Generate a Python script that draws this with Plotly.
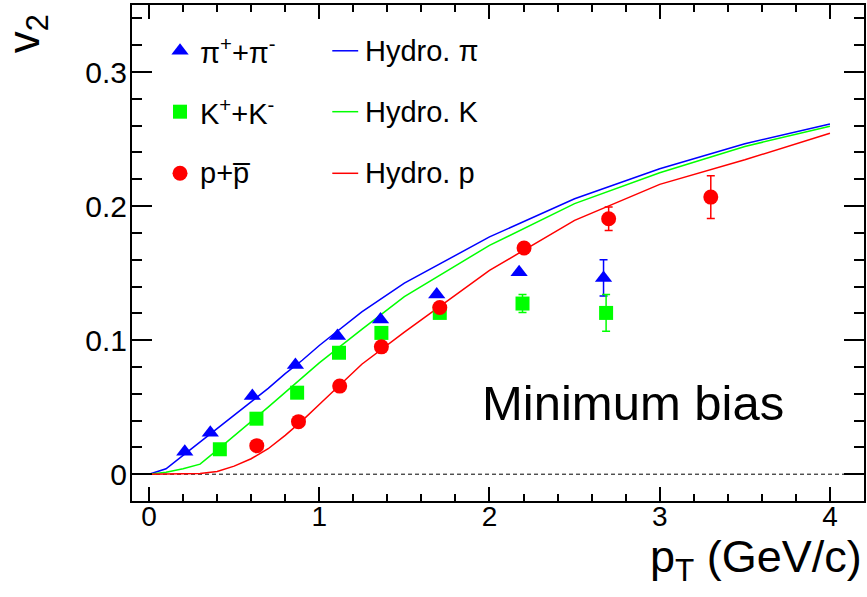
import plotly.graph_objects as go

# ---- data ----
pi_pt = [0.21, 0.36, 0.607, 0.86, 1.107, 1.36, 1.69, 2.174, 2.67]
pi_v2 = [0.0168, 0.031, 0.0583, 0.0814, 0.103, 0.1154, 0.134, 0.1506, 0.1464]
pi_err = [0.0, 0.0, 0.0, 0.0, 0.0, 0.0, 0.0, 0.0, 0.0135]

k_pt = [0.416, 0.631, 0.87, 1.116, 1.365, 1.708, 2.194, 2.685]
k_v2 = [0.0186, 0.0414, 0.0608, 0.0906, 0.1054, 0.1203, 0.1273, 0.1203]
k_err = [0.0, 0.0, 0.0, 0.0, 0.0, 0.0, 0.0067, 0.0137]

p_pt = [0.633, 0.878, 1.12, 1.365, 1.708, 2.203, 2.70, 3.30]
p_v2 = [0.0213, 0.0392, 0.0657, 0.095, 0.1243, 0.1687, 0.1906, 0.2067]
p_err = [0.0, 0.0, 0.0, 0.0, 0.0, 0.0, 0.0088, 0.0159]

hydro_pt = [0.0, 0.1, 0.2, 0.3, 0.4, 0.5, 0.6, 0.7, 0.8, 0.9, 1.0, 1.25, 1.5, 2.0, 2.5, 3.0, 3.5, 4.0]
hydro_pi = [0.0, 0.004, 0.014, 0.024, 0.034, 0.044, 0.054, 0.064, 0.075, 0.085, 0.096, 0.121, 0.1425, 0.177, 0.2055, 0.2278, 0.2465, 0.2613]
hydro_k = [0.0, 0.0015, 0.004, 0.0075, 0.018, 0.0285, 0.039, 0.050, 0.061, 0.072, 0.083, 0.108, 0.1325, 0.1707, 0.2018, 0.2249, 0.2445, 0.2596]
hydro_p = [0.0, 0.0, 0.0, 0.0005, 0.002, 0.006, 0.0115, 0.019, 0.029, 0.040, 0.052, 0.082, 0.106, 0.152, 0.1893, 0.2162, 0.2345, 0.2544]

legend_data = ["π<sup>+</sup>+π<sup>-</sup>", "K<sup>+</sup>+K<sup>-</sup>", "p+p\u0305"]
legend_hydro = ["Hydro. π", "Hydro. K", "Hydro. p"]
x_title = "p<sub>T</sub> (GeV/c)"
y_title = "v<sub>2</sub>"
label = "Minimum bias"

BLUE, GREEN, RED = "#0000ff", "#00ff00", "#ff0000"
FONT = "Liberation Sans, Arial, sans-serif"

fig = go.Figure()

# hydro curves
for v, c in [(hydro_pi, BLUE), (hydro_k, GREEN), (hydro_p, RED)]:
    fig.add_trace(go.Scatter(x=hydro_pt, y=v, mode="lines",
                             line=dict(color=c, width=1.5), showlegend=False, hoverinfo="skip"))

# data points
for x, y, e, c, sym, sz in [(pi_pt, pi_v2, pi_err, BLUE, "triangle-up", 15),
                            (k_pt, k_v2, k_err, GREEN, "square", 14),
                            (p_pt, p_v2, p_err, RED, "circle", 15)]:
    fig.add_trace(go.Scatter(x=x, y=y, mode="markers",
                             marker=dict(symbol=sym, size=sz, color=c, line=dict(width=0)),
                             error_y=dict(type="data", array=e, color=c, thickness=1.5, width=4),
                             showlegend=False))

# manual legend on an overlay axis spanning the frame (0..1)
leg_x_marker = 0.0656
leg_x_text1 = 0.0902
leg_line_x = [0.2736, 0.309]
leg_x_text2 = 0.316
leg_rows = [0.9077, 0.7849, 0.6607]
for (sym, sz, c), yy in zip([("triangle-up", 15, BLUE), ("square", 14, GREEN), ("circle", 15, RED)], leg_rows):
    fig.add_trace(go.Scatter(x=[leg_x_marker], y=[yy], xaxis="x2", yaxis="y2", mode="markers",
                             marker=dict(symbol=sym, size=sz, color=c, line=dict(width=0)),
                             showlegend=False, hoverinfo="skip"))
for c, yy in zip([BLUE, GREEN, RED], leg_rows):
    fig.add_trace(go.Scatter(x=leg_line_x, y=[yy, yy], xaxis="x2", yaxis="y2", mode="lines",
                             line=dict(color=c, width=1.5), showlegend=False, hoverinfo="skip"))

annotations = []
for t, yy in zip(legend_data, leg_rows):
    annotations.append(dict(text=t, xref="x2", yref="y2", x=leg_x_text1, y=yy, xanchor="left",
                            yanchor="middle", showarrow=False, font=dict(family=FONT, size=29, color="black")))
for t, yy in zip(legend_hydro, leg_rows):
    annotations.append(dict(text=t, xref="x2", yref="y2", x=leg_x_text2, y=yy, xanchor="left",
                            yanchor="middle", showarrow=False, font=dict(family=FONT, size=29, color="black")))
annotations.append(dict(text=label, xref="paper", yref="paper", x=0.6844, y=0.1976, xanchor="center",
                        yanchor="middle", showarrow=False, font=dict(family=FONT, size=49, color="black")))
annotations.append(dict(text=x_title, xref="paper", yref="paper", x=1.0, y=-0.118, xanchor="right",
                        yanchor="middle", showarrow=False, font=dict(family=FONT, size=45, color="black")))
annotations.append(dict(text=y_title, xref="paper", yref="paper", x=-0.144, y=0.942, xanchor="center",
                        yanchor="middle", textangle=-90, showarrow=False,
                        font=dict(family=FONT, size=44, color="black")))

fig.update_layout(
    width=867, height=597,
    margin=dict(l=132, r=3, t=5, b=96),
    paper_bgcolor="white", plot_bgcolor="white",
    showlegend=False,
    annotations=annotations,
    shapes=[dict(type="line", xref="x", yref="y", x0=0, x1=4.2, y0=0, y1=0,
                 line=dict(color="black", width=1, dash="4px,3px"), layer="below")],
    xaxis=dict(range=[-0.1, 4.2], showgrid=False, zeroline=False, showline=True, linewidth=2,
               linecolor="black", mirror="ticks", ticks="inside", ticklen=14, tickwidth=1.5,
               tickcolor="black", tick0=0, dtick=1, automargin=False,
               minor=dict(ticks="inside", ticklen=7, dtick=0.2, tick0=0, tickcolor="black", tickwidth=1.5),
               tickfont=dict(family=FONT, size=28, color="black"), ticklabelstandoff=-11),
    yaxis=dict(range=[-0.02, 0.35], showgrid=False, zeroline=False, showline=True, linewidth=2,
               linecolor="black", mirror="ticks", ticks="inside", ticklen=20, tickwidth=1.5,
               tickcolor="black", tick0=0, dtick=0.1, automargin=False,
               minor=dict(ticks="inside", ticklen=10, dtick=0.02, tick0=0, tickcolor="black", tickwidth=1.5),
               tickfont=dict(family=FONT, size=30, color="black"), ticklabelstandoff=-3),
    xaxis2=dict(overlaying="x", range=[0, 1], visible=False, fixedrange=True),
    yaxis2=dict(overlaying="y", range=[0, 1], visible=False, fixedrange=True),
)

fig.write_html("out.html", config={"displayModeBar": False},
               post_script="document.body.style.margin='0px';")
